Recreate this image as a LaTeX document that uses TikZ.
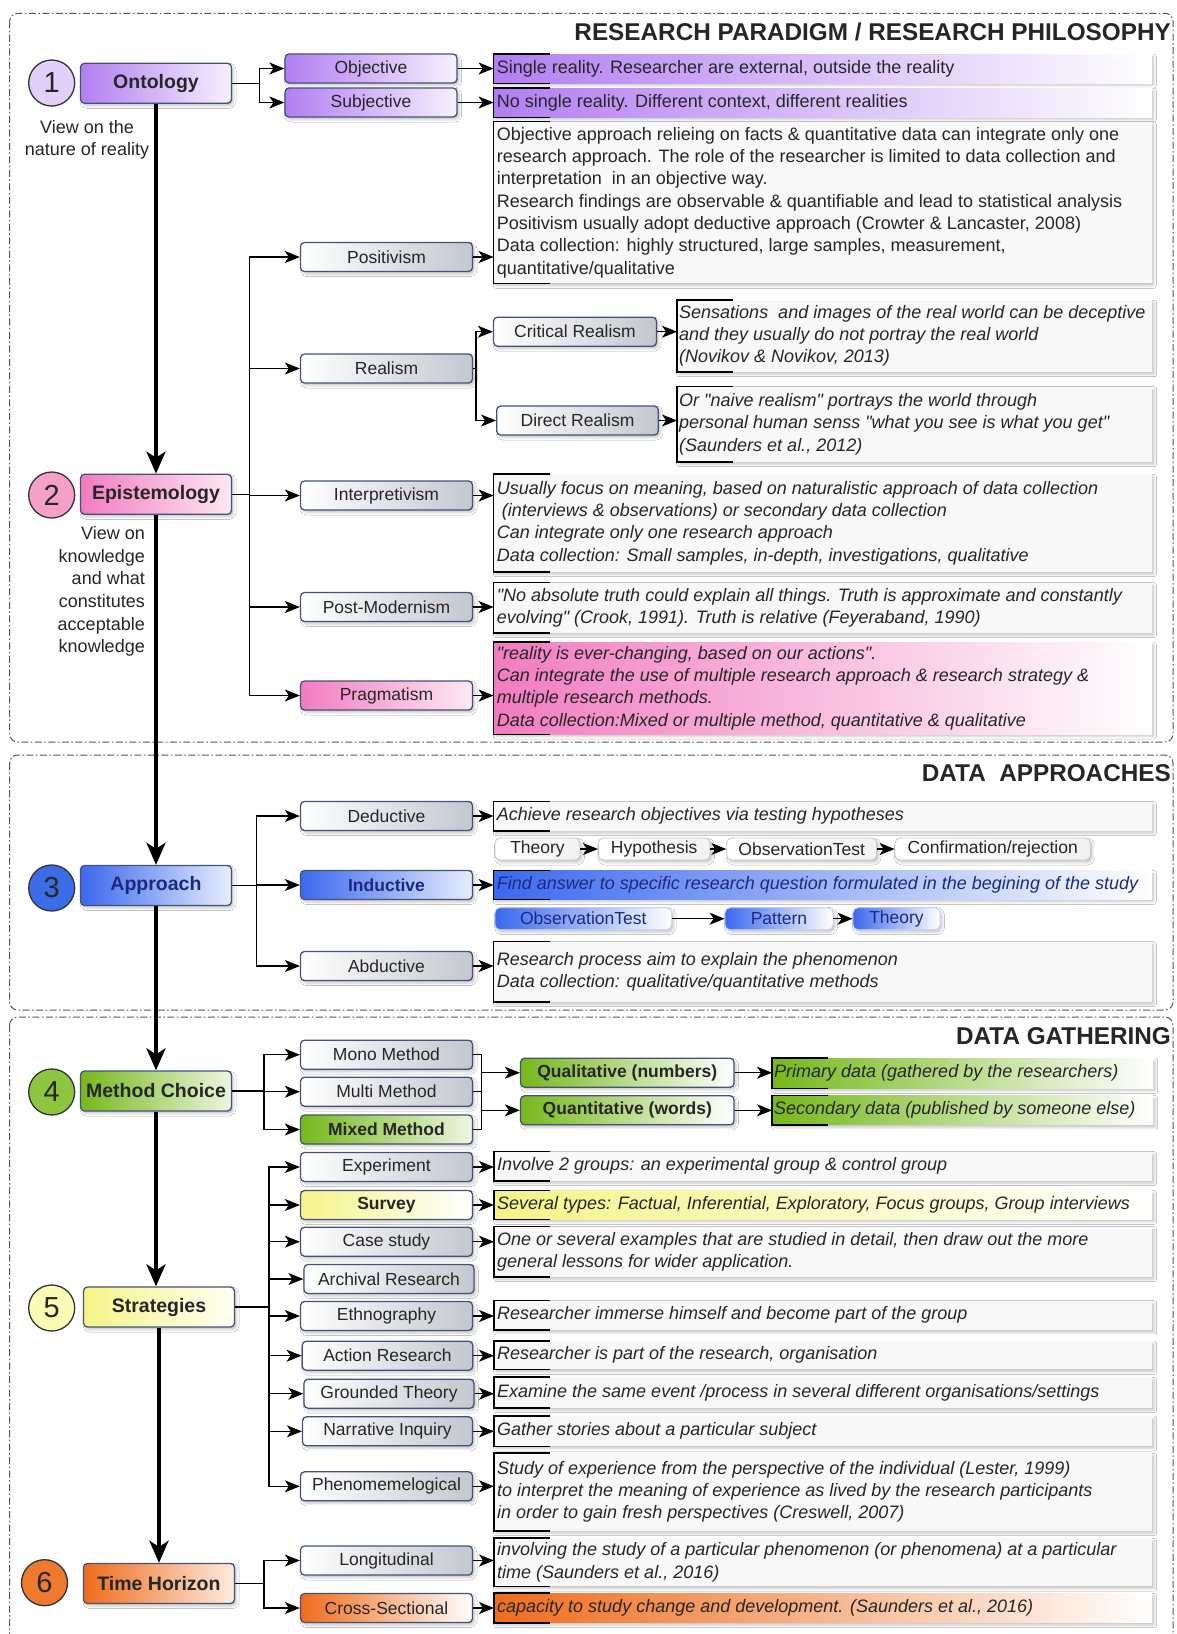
\documentclass[tikz,border=0pt]{standalone}
\usepackage{fontspec}
\setmainfont{Liberation Sans}
\usetikzlibrary{arrows.meta,shadows.blur}

% straight double quote, set as a glyph so that it is not turned into a curly one
\newcommand{\sq}{\XeTeXglyph\XeTeXcharglyph"22\relax}

% palette
\definecolor{boxline}{HTML}{44527A}
\definecolor{grayR}{HTML}{C3C7CF}
\definecolor{descfill}{HTML}{F8F8F8}
\definecolor{purL}{HTML}{B27EF2}
\definecolor{purR}{HTML}{F6F0FE}
\definecolor{pnkL}{HTML}{F27CC0}
\definecolor{pnkR}{HTML}{FDE8F3}
\definecolor{bluL}{HTML}{3B68EE}
\definecolor{bluR}{HTML}{E8EEFD}
\definecolor{grnL}{HTML}{76B81A}
\definecolor{grnR}{HTML}{EEF6E2}
\definecolor{yelL}{HTML}{F4F488}
\definecolor{yelR}{HTML}{FFFFF4}
\definecolor{orgL}{HTML}{EF6C1C}
\definecolor{orgR}{HTML}{FDECE0}
\definecolor{frameline}{HTML}{555555}
\definecolor{txt}{HTML}{262626}
\definecolor{navy}{HTML}{1B2A80}
\definecolor{c1fill}{HTML}{E2CFFA}
\definecolor{c2fill}{HTML}{F4A0CB}
\definecolor{c3fill}{HTML}{3C6DE6}
\definecolor{c4fill}{HTML}{8CC63E}
\definecolor{c5fill}{HTML}{FCFBB4}
\definecolor{c6fill}{HTML}{EF7A2E}

\begin{document}
\begin{tikzpicture}[x=1pt,y=-1pt,
  softshadow/.style={blur shadow={shadow xshift=2pt,shadow yshift=-2.5pt,shadow blur radius=2.5pt,shadow opacity=22}},
  mainbox/.style={rectangle,rounded corners=4pt,draw=boxline,line width=1.3pt,minimum width=151pt,minimum height=40pt,inner sep=0pt,font=\bfseries\fontsize{19.5}{22}\selectfont,text=txt,softshadow},
  numcirc/.style={circle,draw=black!80,line width=1.3pt,minimum size=46pt,inner sep=0pt,font=\fontsize{29}{30}\selectfont,text=txt},
  subbox/.style={rectangle,rounded corners=4pt,draw=boxline,line width=1.3pt,minimum width=172pt,minimum height=29pt,inner sep=0pt,font=\fontsize{17.5}{20}\selectfont,text=txt,softshadow},
  gbox/.style={left color=white,right color=grayR},
  bpur/.style={left color=purL,right color=purR},
  bpnk/.style={left color=pnkL,right color=pnkR},
  bblu/.style={left color=bluL,right color=bluR},
  bgrn/.style={left color=grnL,right color=grnR},
  byel/.style={left color=yelL,right color=yelR},
  borg/.style={left color=orgL,right color=orgR},
  dpur/.style={left color=purL,right color=white},
  dpnk/.style={left color=pnkL,right color=white},
  dblu/.style={left color=bluL,right color=white},
  dgrn/.style={left color=grnL,right color=white},
  dyel/.style={left color=yelL,right color=white},
  dorg/.style={left color=orgL,right color=white},
  descbox/.style={rectangle,fill=descfill,inner sep=0pt,anchor=west,softshadow},
  dtext/.style={anchor=west,align=left,inner sep=0pt,font=\fontsize{18}{22.3}\selectfont,text=txt},
  ditext/.style={dtext,font=\itshape\fontsize{18}{22.3}\selectfont},
  chainbox/.style={rectangle,rounded corners=5pt,draw=black!22,line width=0.8pt,minimum height=22pt,inner sep=0pt,font=\fontsize{17.5}{20}\selectfont,text=txt,left color=white,right color=black!5,softshadow},
  bchain/.style={chainbox,draw=bluL!30,left color=bluL,right color=white,text=navy},
  sidenote/.style={inner sep=0pt,font=\fontsize{18}{22.6}\selectfont,text=txt},
  sectitle/.style={anchor=east,inner sep=0pt,font=\bfseries\fontsize{24.3}{26}\selectfont,text=txt},
  secframe/.style={draw=frameline,line width=1pt,dash pattern=on 7pt off 2.5pt on 1.5pt off 2.5pt,rounded corners=8pt},
  conn/.style={line width=1.3pt},
  arr/.style={conn,-{Stealth[length=15pt,width=12pt,inset=4pt]}},
  flow/.style={line width=4.5pt,-{Stealth[length=22pt,width=19pt,inset=6pt]}},
  brk/.style={line width=1.4pt}
]
\useasboundingbox (0,0) rectangle (1176,1634);
\fill[white] (0,0) rectangle (1176,1634);
\clip (0,0) rectangle (1176,1634);

% section frames and titles
\draw[secframe] (9.6,13.3) rectangle (1173,742);
\draw[secframe] (9.6,755) rectangle (1173,1010);
\draw[secframe] (9.6,1017) rectangle (1173,1680);
\node[sectitle] (title1) at (1171,31.7) {RESEARCH PARADIGM / RESEARCH PHILOSOPHY};
\node[sectitle] (title2) at (1171,773.3) {DATA\ \ APPROACHES};
\node[sectitle] (title3) at (1171,1036) {DATA GATHERING};

% main column
\node[numcirc,fill=c1fill] (n1) at (51.7,83) {1};
\node[mainbox,bpur] (onto) at (156,83.3) {Ontology};
\node[sidenote,align=center] (onote) at (87,140) {View on the\\nature of reality};

\node[numcirc,fill=c2fill] (n2) at (51.7,495) {2};
\node[mainbox,bpnk] (epis) at (156,494.3) {Epistemology};
\node[sidenote,align=right,anchor=east] (enote) at (145,591.5) {View on\\knowledge\\and what\\constitutes\\acceptable\\knowledge};

\node[numcirc,fill=c3fill] (n3) at (51.7,888) {3};
\node[mainbox,bblu,text=navy] (appr) at (156,885.5) {Approach};

\node[numcirc,fill=c4fill] (n4) at (51.7,1092) {4};
\node[mainbox,bgrn] (meth) at (156,1091) {Method Choice};

\node[numcirc,fill=c5fill] (n5) at (51.7,1308) {5};
\node[mainbox,byel] (strat) at (159,1307) {Strategies};

\node[numcirc,fill=c6fill] (n6) at (44.5,1582.7) {6};
\node[mainbox,borg] (time) at (159,1583.5) {Time Horizon};

% ---------- ontology ----------
\node[subbox,bpur] (obj) at (371,68.5) {Objective};
\node[subbox,bpur] (subj) at (371,102.5) {Subjective};
\node[descbox,dpur,minimum width=658pt,minimum height=29pt] (objd) at (493.6,68.5) {};
\node[dtext] (objdt) at ([xshift=3pt]objd.west) {Single reality. Researcher are external, outside the reality};
\node[descbox,dpur,minimum width=658pt,minimum height=29pt] (subjd) at (493.6,102.5) {};
\node[dtext] (subjdt) at ([xshift=3pt]subjd.west) {No single reality. Different context, different realities};

% ---------- epistemology ----------
\node[subbox,gbox] (pos) at (386.5,257) {Positivism};
\node[subbox,gbox] (rea) at (386.5,368.5) {Realism};
\node[subbox,gbox,minimum width=163pt] (cr) at (575,331.7) {Critical Realism};
\node[subbox,gbox,minimum width=161.6pt] (dr) at (577.5,420.5) {Direct Realism};
\node[subbox,gbox] (int) at (386.5,495.5) {Interpretivism};
\node[subbox,gbox] (post) at (386.5,607) {Post-Modernism};
\node[subbox,bpnk] (prag) at (386.5,695.5) {Pragmatism};

\node[descbox,minimum width=658pt,minimum height=161.6pt] (posd) at (493.6,202.5) {};
\node[dtext] (posdt) at ([xshift=3pt]posd.west) {Objective approach relieing on facts \& quantitative data can integrate only one\\research approach. The role of the researcher is limited to data collection and\\interpretation\ \ in an objective way.\\Research findings are observable \& quantifiable and lead to statistical analysis\\Positivism usually adopt deductive approach (Crowter \& Lancaster, 2008)\\Data collection: highly structured, large samples, measurement,\\quantitative/qualitative};

\node[descbox,minimum width=475pt,minimum height=71.4pt] (crd) at (677,336) {};
\node[ditext] (crdt) at ([xshift=2pt]crd.west) {Sensations\ \ and images of the real world can be deceptive\\and they usually do not portray the real world\\(Novikov \& Novikov, 2013)};
\node[descbox,minimum width=475pt,minimum height=75pt] (drd) at (677,424.2) {};
\node[ditext] (drdt) at ([xshift=2pt]drd.west) {Or \sq naive realism\sq\ portrays the world through\\personal human senss \sq what you see is what you get\sq\\(Saunders et al., 2012)};

\node[descbox,minimum width=658pt,minimum height=97.4pt] (intd) at (493.6,523) {};
\node[ditext] (intdt) at ([xshift=3pt]intd.west) {Usually focus on meaning, based on naturalistic approach of data collection\\\ (interviews \& observations) or secondary data collection\\Can integrate only one research approach\\Data collection: Small samples, in-depth, investigations, qualitative};

\node[descbox,minimum width=658pt,minimum height=50pt] (postd) at (493.6,607.6) {};
\node[ditext] (postdt) at ([xshift=3pt]postd.west) {\sq No absolute truth could explain all things. Truth is approximate and constantly\\evolving\sq\ (Crook, 1991). Truth is relative (Feyeraband, 1990)};

\node[descbox,dpnk,minimum width=658pt,minimum height=92pt] (pragd) at (493.6,688) {};
\node[ditext] (pragdt) at ([xshift=3pt]pragd.west) {\sq reality is ever-changing, based on our actions\sq.\\Can integrate the use of multiple research approach \& research strategy \&\\multiple research methods.\\Data collection:Mixed or multiple method, quantitative \& qualitative};

% ---------- approach ----------
\node[subbox,gbox] (ded) at (386.5,816) {Deductive};
\node[subbox,bblu,font=\bfseries\fontsize{17.5}{20}\selectfont,text=navy] (ind) at (386.5,885) {Inductive};
\node[subbox,gbox] (abd) at (386.5,966) {Abductive};

\node[descbox,minimum width=658pt,minimum height=29pt] (dedd) at (493.6,816.2) {};
\node[ditext] (deddt) at ([xshift=3pt]dedd.west) {Achieve research objectives via testing hypotheses};
\node[descbox,dblu,minimum width=658pt,minimum height=28.6pt] (indd) at (493.6,885) {};
\node[ditext,text=navy] (inddt) at ([xshift=3pt]indd.west) {Find answer to specific research question formulated in the begining of the study};
\node[descbox,minimum width=658pt,minimum height=60pt] (abdd) at (493.6,971.7) {};
\node[ditext] (abddt) at ([xshift=3pt]abdd.west) {Research process aim to explain the phenomenon\\Data collection: qualitative/quantitative methods};

\node[chainbox,minimum width=85pt] (dc1) at (537.5,849) {Theory};
\node[chainbox,minimum width=111.7pt] (dc2) at (654.2,849) {Hypothesis};
\node[chainbox,minimum width=150pt] (dc3) at (801.7,849) {ObservationTest};
\node[chainbox,minimum width=195.4pt] (dc4) at (992.7,849) {Confirmation/rejection};
\node[bchain,minimum width=176.7pt] (ic1) at (583.3,918.7) {ObservationTest};
\node[bchain,minimum width=108pt] (ic2) at (779,918.7) {Pattern};
\node[bchain,minimum width=87pt] (ic3) at (896.5,918.7) {Theory};

% ---------- method choice ----------
\node[subbox,gbox] (mono) at (386.5,1054.7) {Mono Method};
\node[subbox,gbox] (multi) at (386.5,1091.7) {Multi Method};
\node[subbox,bgrn,font=\bfseries\fontsize{17.5}{20}\selectfont] (mixed) at (386.5,1129.5) {Mixed Method};
\node[subbox,bgrn,minimum width=213.5pt,font=\bfseries\fontsize{17.5}{20}\selectfont,right color=white] (qual) at (627.3,1072.7) {Qualitative (numbers)};
\node[subbox,bgrn,minimum width=213.5pt,font=\bfseries\fontsize{17.5}{20}\selectfont,right color=white] (quant) at (627.3,1110.3) {Quantitative (words)};
\node[descbox,dgrn,minimum width=381pt,minimum height=30.3pt] (quald) at (772,1073.2) {};
\node[ditext] (qualdt) at ([xshift=2pt]quald.west) {Primary data (gathered by the researchers)};
\node[descbox,dgrn,minimum width=381pt,minimum height=29.3pt] (quantd) at (772,1110.3) {};
\node[ditext] (quantdt) at ([xshift=2pt]quantd.west) {Secondary data (published by someone else)};

% ---------- strategies ----------
\node[subbox,gbox] (exp) at (386.5,1167) {Experiment};
\node[subbox,byel,right color=white,font=\bfseries\fontsize{17.5}{20}\selectfont] (surv) at (386.5,1205) {Survey};
\node[subbox,gbox] (case) at (386.5,1241.7) {Case study};
\node[subbox,gbox,minimum width=170pt] (arch) at (389,1279) {Archival Research};
\node[subbox,gbox] (eth) at (386.5,1316) {Ethnography};
\node[subbox,gbox,minimum width=170.6pt] (act) at (387.5,1355.7) {Action Research};
\node[subbox,gbox,minimum width=170pt] (grd) at (389,1393.7) {Grounded Theory};
\node[subbox,gbox,minimum width=170pt] (nar) at (387.5,1431.3) {Narrative Inquiry};
\node[subbox,gbox] (phe) at (386.5,1486.3) {Phenomemelogical};

\node[descbox,minimum width=658pt,minimum height=29pt] (expd) at (494,1166.2) {};
\node[ditext] (expdt) at ([xshift=3pt]expd.west) {Involve 2 groups: an experimental group \& control group};
\node[descbox,dyel,minimum width=658pt,minimum height=28.6pt] (survd) at (494,1205) {};
\node[ditext] (survdt) at ([xshift=3pt]survd.west) {Several types: Factual, Inferential, Exploratory, Focus groups, Group interviews};
\node[descbox,minimum width=658pt,minimum height=50pt] (cased) at (494,1251.7) {};
\node[ditext] (casedt) at ([xshift=3pt]cased.west) {One or several examples that are studied in detail, then draw out the more\\general lessons for wider application.};
\node[descbox,minimum width=658pt,minimum height=29.3pt] (ethd) at (494,1315.3) {};
\node[ditext] (ethdt) at ([xshift=3pt]ethd.west) {Researcher immerse himself and become part of the group};
\node[descbox,minimum width=658pt,minimum height=28.3pt] (actd) at (494,1355.2) {};
\node[ditext] (actdt) at ([xshift=3pt]actd.west) {Researcher is part of the research, organisation};
\node[descbox,minimum width=658pt,minimum height=30.4pt] (grdd) at (494,1392.5) {};
\node[ditext] (grddt) at ([xshift=3pt]grdd.west) {Examine the same event /process in several different organisations/settings};
\node[descbox,minimum width=658pt,minimum height=30pt] (nard) at (494,1431) {};
\node[ditext] (nardt) at ([xshift=3pt]nard.west) {Gather stories about a particular subject};
\node[descbox,minimum width=658pt,minimum height=77.4pt] (phed) at (494,1492) {};
\node[ditext] (phedt) at ([xshift=3pt]phed.west) {Study of experience from the perspective of the individual (Lester, 1999)\\to interpret the meaning of experience as lived by the research participants\\in order to gain fresh perspectives (Creswell, 2007)};

% ---------- time horizon ----------
\node[subbox,gbox] (lon) at (386.5,1560.5) {Longitudinal};
\node[subbox,borg,right color=white] (cross) at (386.5,1608) {Cross-Sectional};
\node[descbox,minimum width=658pt,minimum height=47.7pt] (lond) at (494,1562.2) {};
\node[ditext] (londt) at ([xshift=3pt]lond.west) {involving the study of a particular phenomenon (or phenomena) at a particular\\time (Saunders et al., 2016)};
\node[descbox,dorg,minimum width=658pt,minimum height=29.4pt] (crossd) at (494,1608) {};
\node[ditext] (crossdt) at ([xshift=3pt]crossd.west) {capacity to study change and development. (Saunders et al., 2016)};

% left brackets of the description panels
\foreach \d in {objd,subjd,posd,crd,drd,intd,postd,pragd,dedd,indd,abdd,quald,quantd,expd,survd,cased,ethd,actd,grdd,nard,phed,lond,crossd}
  \draw[brk] ([xshift=56pt]\d.north west) -- (\d.north west) -- (\d.south west) -- ([xshift=56pt]\d.south west);

% main flow
\draw[flow] (onto.south) -- (epis.north);
\draw[flow] (epis.south) -- (appr.north);
\draw[flow] (appr.south) -- (meth.north);
\draw[flow] (meth.south) -- (meth.south |- strat.north);
\draw[flow] (strat.south) -- (time.north);

% ontology branches
\coordinate (jo) at (259.5,83.3);
\draw[conn] (onto.east) -- (jo);
\draw[arr] (jo) |- (obj.west);
\draw[arr] (jo) |- (subj.west);
\draw[arr] (obj.east) -- (obj.east -| objd.west);
\draw[arr] (subj.east) -- (subj.east -| subjd.west);

% epistemology branches
\coordinate (je) at (249.5,494.3);
\draw[conn] (epis.east) -- (je);
\foreach \b in {pos,rea,int,post,prag} \draw[arr] (je) |- (\b.west);
\draw[arr] (pos.east) -- (pos.east -| posd.west);
\draw[arr] (int.east) -- (int.east -| intd.west);
\draw[arr] (post.east) -- (post.east -| postd.west);
\draw[arr] (prag.east) -- (prag.east -| pragd.west);
\coordinate (jr) at (476,368.5);
\draw[conn] (rea.east) -- (jr);
\draw[arr] (jr) |- (cr.west);
\draw[arr] (jr) |- (dr.west);
\draw[arr] (cr.east) -- (cr.east -| crd.west);
\draw[arr] (dr.east) -- (dr.east -| drd.west);

% approach branches
\coordinate (ja) at (256.4,885.5);
\draw[conn] (appr.east) -- (ja);
\foreach \b in {ded,ind,abd} \draw[arr] (ja) |- (\b.west);
\draw[arr] (ded.east) -- (ded.east -| dedd.west);
\draw[arr] (ind.east) -- (ind.east -| indd.west);
\draw[arr] (abd.east) -- (abd.east -| abdd.west);
\draw[arr] (dc1.east) -- (dc2.west);
\draw[arr] (dc2.east) -- (dc3.west);
\draw[arr] (dc3.east) -- (dc4.west);
\draw[arr] (ic1.east) -- (ic2.west);
\draw[arr] (ic2.east) -- (ic3.west);

% method choice branches
\coordinate (jm) at (264,1091);
\draw[conn] (meth.east) -- (jm);
\foreach \b in {mono,multi,mixed} \draw[arr] (jm) |- (\b.west);
\coordinate (kb) at (481.6,1091.7);
\draw[conn] (mono.east) -| (kb);
\draw[conn] (mixed.east) -| (kb);
\draw[conn] (multi.east) -- (multi.east -| kb);
\draw[arr] (kb |- qual.west) -- (qual.west);
\draw[arr] (kb |- quant.west) -- (quant.west);
\draw[arr] (qual.east) -- (qual.east -| quald.west);
\draw[arr] (quant.east) -- (quant.east -| quantd.west);

% strategy branches
\coordinate (js) at (269,1307);
\draw[conn] (strat.east) -- (js);
\foreach \b in {exp,surv,case,arch,eth,act,grd,nar,phe} \draw[arr] (js) |- (\b.west);
\foreach \b in {exp,surv,case,eth,act,grd,nar,phe} \draw[arr] (\b.east) -- (\b.east -| \b d.west);

% time horizon branches
\coordinate (jt) at (264,1583.5);
\draw[conn] (time.east) -- (jt);
\draw[arr] (jt) |- (lon.west);
\draw[arr] (jt) |- (cross.west);
\draw[arr] (lon.east) -- (lon.east -| lond.west);
\draw[arr] (cross.east) -- (cross.east -| crossd.west);
\end{tikzpicture}
\end{document}
